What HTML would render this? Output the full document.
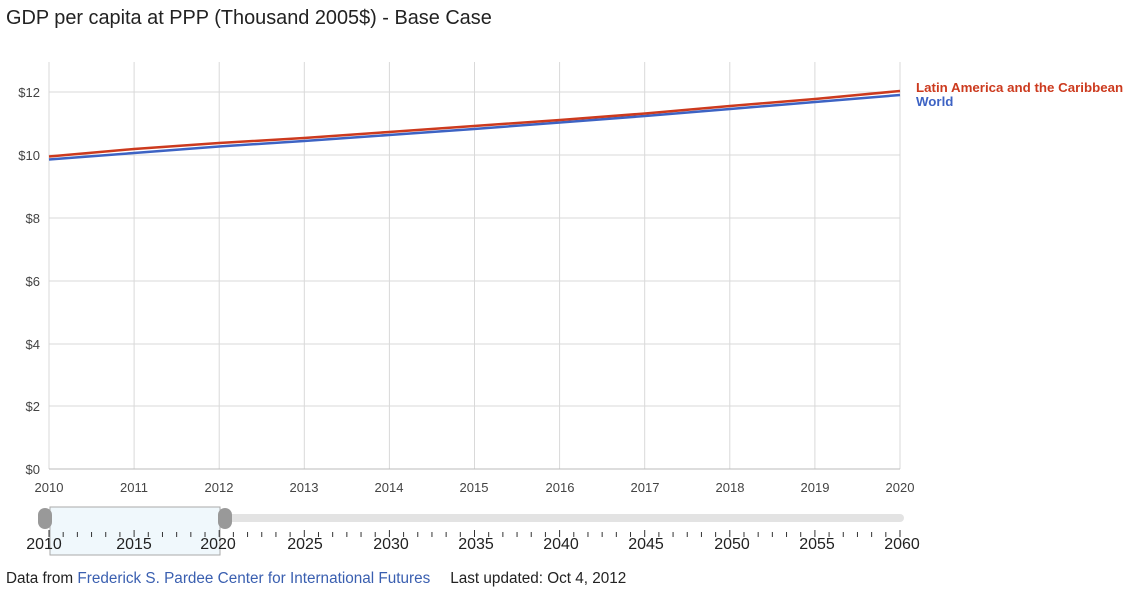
<!DOCTYPE html>
<html><head><style>
body{margin:0;background:#fff;width:1146px;height:592px;overflow:hidden;font-family:"Liberation Sans",Arial,sans-serif;}
</style></head><body>
<svg width="1146" height="592" xmlns="http://www.w3.org/2000/svg" font-family="Liberation Sans, Arial, sans-serif">
<text x="6" y="24" font-size="19.9" fill="#222">GDP per capita at PPP (Thousand 2005$) - Base Case</text>
<g stroke="#d9d9d9" stroke-width="1">
<line x1="49" y1="62" x2="49" y2="469"/>
<line x1="134.1" y1="62" x2="134.1" y2="469"/>
<line x1="219.2" y1="62" x2="219.2" y2="469"/>
<line x1="304.3" y1="62" x2="304.3" y2="469"/>
<line x1="389.4" y1="62" x2="389.4" y2="469"/>
<line x1="474.5" y1="62" x2="474.5" y2="469"/>
<line x1="559.6" y1="62" x2="559.6" y2="469"/>
<line x1="644.7" y1="62" x2="644.7" y2="469"/>
<line x1="729.8" y1="62" x2="729.8" y2="469"/>
<line x1="814.9" y1="62" x2="814.9" y2="469"/>
<line x1="900" y1="62" x2="900" y2="469"/>
<line x1="49" y1="92" x2="900" y2="92"/>
<line x1="49" y1="155" x2="900" y2="155"/>
<line x1="49" y1="218" x2="900" y2="218"/>
<line x1="49" y1="281" x2="900" y2="281"/>
<line x1="49" y1="344" x2="900" y2="344"/>
<line x1="49" y1="406" x2="900" y2="406"/>
<line x1="49" y1="469" x2="900" y2="469" stroke="#bbb"/>
</g>
<g font-size="13" fill="#444" text-anchor="end">
<text x="40" y="97">$12</text><text x="40" y="160">$10</text><text x="40" y="223">$8</text>
<text x="40" y="286">$6</text><text x="40" y="349">$4</text><text x="40" y="411">$2</text><text x="40" y="474">$0</text>
</g>
<g font-size="13" fill="#444" text-anchor="middle">
<text x="49" y="492">2010</text><text x="134" y="492">2011</text><text x="219" y="492">2012</text>
<text x="304" y="492">2013</text><text x="389" y="492">2014</text><text x="474" y="492">2015</text>
<text x="560" y="492">2016</text><text x="645" y="492">2017</text><text x="730" y="492">2018</text>
<text x="815" y="492">2019</text><text x="900" y="492">2020</text>
</g>
<polyline fill="none" stroke="#3d63c4" stroke-width="2.5" points="49,159.5 134,153 219,146.5 304,141 389,135 474,129 560,122.5 645,116 730,109 815,102 900,95"/>
<polyline fill="none" stroke="#cc3a1e" stroke-width="2.5" points="49,156.5 134,149 219,143 304,138 389,132 474,126 560,120 645,113.5 730,106 815,99 900,91"/>
<text x="916" y="92" font-size="13.3" font-weight="bold" fill="#cc3a1e">Latin America and the Caribbean</text>
<text x="916" y="106" font-size="13.3" font-weight="bold" fill="#3d63c4">World</text>
<rect x="45" y="514" width="859" height="8" rx="4" fill="#e3e3e3"/>
<rect x="50" y="507" width="170" height="48" fill="#f0f8fc" stroke="#aaa" stroke-width="1"/>
<rect x="38" y="508" width="14" height="21" rx="7" fill="#999"/>
<rect x="218" y="508" width="14" height="21" rx="7" fill="#999"/>
<g stroke="#333" stroke-width="1" id="t"></g>
<g font-size="16" fill="#222" text-anchor="middle">
<text x="44" y="549">2010</text><text x="134" y="549">2015</text><text x="218" y="549">2020</text>
<text x="305" y="549">2025</text><text x="391" y="549">2030</text><text x="476" y="549">2035</text>
<text x="561" y="549">2040</text><text x="646" y="549">2045</text><text x="732" y="549">2050</text>
<text x="817" y="549">2055</text><text x="902" y="549">2060</text>
</g>
<text x="6" y="583" font-size="15.3" fill="#222">Data from <tspan fill="#3a5fb0">Frederick S. Pardee Center for International Futures</tspan><tspan dx="20">Last updated: Oct 4, 2012</tspan></text>
</svg>
<script>
var g=document.getElementById('t'),s='';
for(var i=0;i<=60;i++){var x=49+i*851/60;var maj=i%6==0;s+='<line x1="'+x+'" y1="'+(maj?530:532)+'" x2="'+x+'" y2="537"/>';}
g.innerHTML=s;
</script>
</body></html>
